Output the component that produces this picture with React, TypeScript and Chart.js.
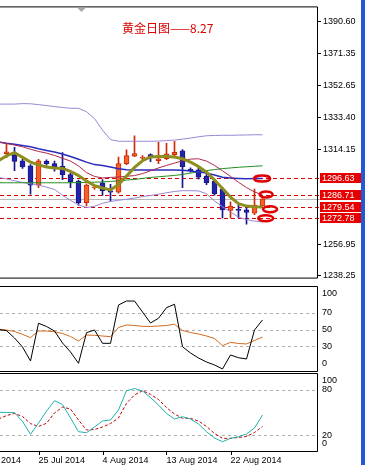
import React, { useEffect, useRef } from 'react';
import { Chart, registerables } from 'chart.js';

Chart.register(...registerables);

// ---------------- data ----------------
const dates = ['16 Jul 2014','17 Jul 2014','18 Jul 2014','20 Jul 2014','21 Jul 2014','22 Jul 2014','23 Jul 2014','24 Jul 2014','25 Jul 2014','27 Jul 2014','28 Jul 2014','29 Jul 2014','30 Jul 2014','31 Jul 2014','1 Aug 2014','3 Aug 2014','4 Aug 2014','5 Aug 2014','6 Aug 2014','7 Aug 2014','8 Aug 2014','10 Aug 2014','11 Aug 2014','12 Aug 2014','13 Aug 2014','14 Aug 2014','15 Aug 2014','17 Aug 2014','18 Aug 2014','19 Aug 2014','20 Aug 2014','21 Aug 2014','22 Aug 2014','24 Aug 2014','25 Aug 2014','26 Aug 2014','27 Aug 2014'];
const timeTickLabels = ['16 Jul 2014', '25 Jul 2014', '4 Aug 2014', '13 Aug 2014', '22 Aug 2014'];

const opens = [null, null, null, null, 1311.5, 1310.4, 1307.2, 1304.1, 1292.6, 1307.0, 1305.5, 1303.8, 1298.9, 1294.9, 1282.0, 1291.1, 1294.0, 1289.1, 1288.3, 1305.5, 1310.0, 1308.7, 1310.9, 1307.2, 1308.4, 1310.9, 1313.2, 1302.1, 1301.7, 1297.9, 1295.0, 1290.2, 1277.35, 1278.2, 1277.75, 1275.8, 1280.05];
const highs = [null, null, null, null, 1317.4, 1315.3, 1308.1, 1304.9, 1308.1, 1307.8, 1307.0, 1312.1, 1299.8, 1295.6, 1293.4, 1292.3, 1295.9, 1293.0, 1309.4, 1313.7, 1322.2, 1310.3, 1311.3, 1318.2, 1317.6, 1318.9, 1313.85, 1302.9, 1303.5, 1299.2, 1295.9, 1291.1, 1282.5, 1280.6, 1280.05, 1290.2, 1284.5];
const lows = [null, null, null, null, 1309.0, 1301.2, 1302.6, 1287.1, 1291.1, 1304.4, 1300.9, 1295.9, 1291.1, 1280.5, 1280.05, 1290.0, 1286.4, 1283.1, 1287.7, 1304.9, 1309.6, 1307.2, 1306.7, 1305.5, 1307.8, 1310.3, 1291.1, 1300.3, 1296.3, 1292.9, 1286.5, 1272.9, 1272.9, 1272.9, 1269.1, 1274.9, 1279.9];
const closes = [null, null, null, null, 1312.5, 1306.8, 1303.5, 1292.6, 1307.2, 1305.5, 1303.2, 1298.9, 1294.6, 1282.0, 1292.6, 1291.4, 1289.25, 1288.3, 1305.5, 1310.3, 1311.5, 1309.3, 1309.4, 1308.4, 1311.3, 1312.2, 1303.6, 1301.2, 1297.3, 1294.0, 1287.3, 1277.75, 1280.05, 1277.35, 1276.2, 1280.6, 1284.4];

const maFast = [null, null, null, 1307.2, 1310.1, 1312.1, 1309.25, 1306.4, 1304.7, 1303.5, 1302.9, 1302.6, 1300.9, 1298.3, 1295.0, 1292.3, 1290.9, 1289.7, 1292.9, 1298.0, 1303.2, 1307.2, 1309.5, 1309.7, 1309.7, 1309.5, 1308.4, 1306.4, 1303.8, 1300.3, 1295.7, 1290.6, 1285.4, 1281.4, 1280.0, 1279.6, 1279.5];
const maMid = [null, null, null, 1318.45, 1317.6, 1316.6, 1315.6, 1314.1, 1312.8, 1311.8, 1310.4, 1308.7, 1307.0, 1304.1, 1300.1, 1297.8, 1296.9, 1297.2, 1297.5, 1297.9, 1298.3, 1299.5, 1301.2, 1302.9, 1304.4, 1305.8, 1307.2, 1308.2, 1308.4, 1307.0, 1304.4, 1301.2, 1297.8, 1294.3, 1291.1, 1288.5, 1286.7];
const maSlow = [null, null, null, 1318.45, 1317.7, 1317.1, 1316.4, 1315.6, 1314.4, 1313.4, 1312.4, 1311.3, 1309.8, 1308.1, 1306.4, 1304.9, 1304.4, 1303.5, 1302.4, 1301.8, 1301.7, 1301.7, 1301.7, 1301.7, 1301.7, 1301.7, 1301.5, 1301.0, 1300.5, 1299.8, 1298.6, 1297.3, 1296.9, 1296.6, 1296.4, 1296.5, 1296.6];
const maLong = [null, null, null, 1294.0, 1294.0, 1294.0, 1294.0, 1294.0, 1294.0, 1294.0, 1294.0, 1294.0, 1294.0, 1294.1, 1294.2, 1294.35, 1294.5, 1294.8, 1295.2, 1295.6, 1296.0, 1296.6, 1297.2, 1297.6, 1298.0, 1298.4, 1299.0, 1299.8, 1300.6, 1301.3, 1301.9, 1302.5, 1302.9, 1303.3, 1303.6, 1303.9, 1304.2];
const bandUpper = [null, null, null, 1341.2, 1341.2, 1341.2, 1341.5, 1341.4, 1340.9, 1340.3, 1339.7, 1339.2, 1338.7, 1338.7, 1336.6, 1332.5, 1325.6, 1319.9, 1318.9, 1318.9, 1318.9, 1318.9, 1318.9, 1319.0, 1319.3, 1319.6, 1320.2, 1320.8, 1321.6, 1322.2, 1322.4, 1322.5, 1322.5, 1322.6, 1322.7, 1322.8, 1322.8];
const bandLower = [null, null, null, 1297.2, 1296.3, 1295.2, 1294.2, 1293.4, 1292.6, 1291.4, 1290.0, 1286.5, 1283.4, 1280.8, 1279.1, 1279.9, 1281.7, 1282.8, 1283.5, 1284.1, 1284.8, 1285.7, 1286.4, 1287.1, 1288.0, 1288.8, 1289.25, 1289.25, 1289.1, 1287.4, 1283.1, 1279.65, 1276.5, 1273.3, 1271.9, 1271.0, 1270.5];

const rsiLine = [null, null, null, 50.2, 48.8, 40, 29.2, 12.4, 57.7, 53.8, 48.4, 34, 23.2, 9.6, 46.4, 49.6, 33.6, 33.6, 79.6, 84.4, 84.4, 71.2, 58, 63.7, 76.4, 80.5, 29.5, 22, 16, 11.2, 7.6, 2.8, 19.6, 16.3, 14.8, 49.6, 61.6];
const rsiSignal = [null, null, null, 50.6, 49.6, 47.8, 44.4, 40.4, 48.4, 48.4, 47.4, 45.4, 41.8, 36.4, 43.6, 43.2, 42.4, 41.6, 52.6, 55.6, 55, 54, 53.8, 54.4, 55, 56.5, 49, 46.6, 44.8, 42.4, 39.4, 30.8, 34.8, 33.4, 32.8, 37, 41.2];
const stochK = [null, null, null, 50.5, 50.3, 50, 38.3, 21.3, 36.2, 52, 65.8, 60.8, 42.9, 24.8, 23.4, 31, 38.9, 40.3, 53.5, 79, 82, 78.7, 70, 60, 49, 41.6, 44.6, 41.6, 35, 24.8, 16.4, 11.5, 16, 18.1, 21.7, 29.7, 46.9];
const stochD = [null, null, null, 41.6, 46.2, 48.9, 44.9, 35.5, 31.7, 35.9, 49.5, 57.5, 54.8, 40.3, 27, 27.7, 31, 35.6, 42.9, 62.4, 73.4, 79, 74.3, 67.4, 56.8, 48.2, 42.5, 42.5, 38.9, 31.7, 22.4, 16, 16, 17.1, 18.4, 23.7, 31.7];

const priceTicks = [1390.60, 1371.35, 1352.65, 1333.40, 1314.15, 1256.95, 1238.25];
const levelPrices = [1296.63, 1286.71, 1279.54, 1272.78];
const bidPrice = 1284.0;
const markPos = [35.95, 36.45, 36.95, 36.4];
const markPrice = [1296.5, 1286.95, 1278.1, 1272.75];
const rsiTicks = [100, 70, 50, 30, 0];
const rsiLevels = [70, 50, 30];
const stochTicks = [100, 80, 20, 0];
const stochLevels = [80, 20];
const titleText = '黄金日图——8.27';

// ---------------- view / styling ----------------
const VIEW_MIN = 3.1875;
const VIEW_MAX = 42.8125;
const PRICE_MIN = 1237.10;
const PRICE_MAX = 1399.22;
const AXIS_W = 48;
const FONT = '"Liberation Sans", Arial, sans-serif';

const BULL_FILL = '#f4622a';
const BULL_LINE = '#cc2a0a';
const BEAR_FILL = '#2424a8';
const BEAR_LINE = '#16168a';

const series = (arr: (number | null)[]) => arr.map((v, k) => ({ x: k, y: v }));

const lineDs = (arr: (number | null)[], color: string, width: number, order: number, dash?: number[]) => ({
  type: 'line' as const,
  data: series(arr),
  borderColor: color,
  borderWidth: width,
  borderDash: dash || [],
  pointRadius: 0,
  fill: false,
  tension: 0,
  order,
});

const xHidden = {
  type: 'linear' as const,
  min: VIEW_MIN,
  max: VIEW_MAX,
  display: false,
  offset: false,
};

const drawFrame = (chart: any) => {
  const { ctx, chartArea: ca } = chart;
  ctx.save();
  ctx.strokeStyle = '#000';
  ctx.lineWidth = 1;
  ctx.setLineDash([]);
  ctx.beginPath();
  ctx.moveTo(0, ca.top - 0.5);
  ctx.lineTo(ca.right + 0.5, ca.top - 0.5);
  ctx.lineTo(ca.right + 0.5, ca.bottom + 0.5);
  ctx.lineTo(0, ca.bottom + 0.5);
  ctx.stroke();
  ctx.restore();
};

const levelLinesPlugin = (levels: number[]) => ({
  id: 'levels',
  beforeDatasetsDraw(chart: any) {
    const { ctx, chartArea: ca, scales } = chart;
    ctx.save();
    ctx.strokeStyle = '#b0b0b0';
    ctx.lineWidth = 1;
    ctx.setLineDash([3, 3]);
    levels.forEach((v) => {
      const py = Math.round(scales.y.getPixelForValue(v)) + 0.5;
      ctx.beginPath();
      ctx.moveTo(ca.left, py);
      ctx.lineTo(ca.right, py);
      ctx.stroke();
    });
    ctx.restore();
  },
  afterDraw(chart: any) {
    drawFrame(chart);
  },
});

const sideLabelsPlugin = (ticks: number[]) => ({
  id: 'sideLabels',
  afterDraw(chart: any) {
    const { ctx, chartArea: ca, scales } = chart;
    ctx.save();
    ctx.fillStyle = '#000';
    ctx.font = `9px ${FONT}`;
    ctx.textBaseline = 'middle';
    ctx.textAlign = 'left';
    ticks.forEach((v) => {
      let py = scales.y.getPixelForValue(v);
      py = Math.min(Math.max(py, ca.top + 7), ca.bottom - 7);
      ctx.fillText(String(v), ca.right + 5, py);
    });
    ctx.restore();
  },
});

const timeAxisPlugin = {
  id: 'timeAxis',
  afterDraw(chart: any) {
    const { ctx, chartArea: ca, scales } = chart;
    ctx.save();
    ctx.fillStyle = '#000';
    ctx.strokeStyle = '#000';
    ctx.lineWidth = 1;
    ctx.font = `9px ${FONT}`;
    ctx.textBaseline = 'top';
    ctx.textAlign = 'left';
    timeTickLabels.forEach((d) => {
      const px = scales.x.getPixelForValue(dates.indexOf(d));
      const tx = Math.round(px) + 0.5;
      ctx.beginPath();
      ctx.moveTo(tx, ca.bottom);
      ctx.lineTo(tx, ca.bottom + 4);
      ctx.stroke();
      ctx.fillText(d, px, ca.bottom + 5);
    });
    ctx.restore();
  },
};

const mainDeco = {
  id: 'mainDeco',
  beforeDatasetsDraw(chart: any) {
    const { ctx, chartArea: ca, scales } = chart;
    ctx.save();
    ctx.lineWidth = 1;
    const by = Math.round(scales.y.getPixelForValue(bidPrice)) + 0.5;
    ctx.strokeStyle = '#b8b8b8';
    ctx.beginPath();
    ctx.moveTo(ca.left, by);
    ctx.lineTo(chart.width, by);
    ctx.stroke();
    ctx.strokeStyle = '#d80000';
    ctx.setLineDash([4, 3]);
    levelPrices.forEach((p) => {
      const py = Math.round(scales.y.getPixelForValue(p)) + 0.5;
      ctx.beginPath();
      ctx.moveTo(ca.left, py);
      ctx.lineTo(ca.right + 3, py);
      ctx.stroke();
    });
    ctx.restore();
  },
  afterDatasetsDraw(chart: any) {
    const { ctx, scales } = chart;
    const rx = [8, 6.5, 7, 7.5];
    ctx.save();
    ctx.strokeStyle = '#e00000';
    ctx.lineWidth = 2.5;
    markPos.forEach((m, k) => {
      const px = scales.x.getPixelForValue(m);
      const py = scales.y.getPixelForValue(markPrice[k]);
      ctx.beginPath();
      ctx.ellipse(px, py, rx[k], 3, 0, 0, Math.PI * 2);
      ctx.stroke();
    });
    ctx.restore();
  },
  afterDraw(chart: any) {
    const { ctx, chartArea: ca, scales } = chart;
    drawFrame(chart);
    ctx.save();
    ctx.font = `9px ${FONT}`;
    ctx.textBaseline = 'middle';
    ctx.textAlign = 'left';
    levelPrices.forEach((p) => {
      const py = scales.y.getPixelForValue(p);
      ctx.fillStyle = '#e60000';
      ctx.fillRect(ca.right + 3, Math.round(py) - 5, 41, 10);
      ctx.fillStyle = '#ffffff';
      ctx.fillText(p.toFixed(2), ca.right + 5, py + 0.5);
    });
    ctx.fillStyle = '#dd0000';
    ctx.font = '12px "Noto Sans CJK SC", sans-serif';
    ctx.fillText(titleText, ca.left + 122, 28);
    ctx.fillStyle = '#a8a8a8';
    ctx.beginPath();
    ctx.moveTo(ca.left + 77, ca.top);
    ctx.lineTo(ca.left + 86, ca.top);
    ctx.lineTo(ca.left + 81.5, ca.top + 4.5);
    ctx.closePath();
    ctx.fill();
    ctx.restore();
  },
};

const baseOptions = (padding: any) => ({
  animation: false,
  responsive: false,
  maintainAspectRatio: false,
  events: [],
  layout: { padding, autoPadding: false },
  plugins: { legend: { display: false }, tooltip: { enabled: false } },
});

const plainY = (min: number, max: number) => ({
  type: 'linear',
  position: 'right',
  min,
  max,
  afterFit: (s: any) => { s.width = AXIS_W; },
  ticks: { display: false },
  grid: { display: false },
  border: { display: false },
});

function mainConfig(): any {
  const idx = dates.map((_, k) => k).filter((k) => opens[k] != null);
  const bull = (k: number) => (closes[k] as number) >= (opens[k] as number);
  return {
    type: 'bar',
    data: {
      datasets: [
        {
          type: 'bar',
          data: idx.map((k) => ({ x: k, y: [lows[k], highs[k]] })),
          backgroundColor: idx.map((k) => (bull(k) ? BULL_LINE : BEAR_LINE)),
          borderWidth: 0,
          barThickness: 1,
          grouped: false,
          order: 20,
        },
        {
          type: 'bar',
          data: idx.map((k) => ({ x: k, y: [opens[k], closes[k]] })),
          backgroundColor: idx.map((k) => (bull(k) ? BULL_FILL : BEAR_FILL)),
          borderColor: idx.map((k) => (bull(k) ? BULL_LINE : BEAR_LINE)),
          borderWidth: 1,
          borderSkipped: false,
          barThickness: 5,
          grouped: false,
          order: 19,
        },
        lineDs(bandUpper, '#9a85d6', 1, 8),
        lineDs(bandLower, '#9a85d6', 1, 7),
        lineDs(maLong, '#1f8f1f', 1, 6),
        lineDs(maSlow, '#2b2bbf', 1.5, 5),
        lineDs(maMid, '#b0284a', 1, 4),
        lineDs(maFast, '#8e8e1e', 3, 3),
      ],
    },
    options: {
      ...baseOptions({ top: 2, bottom: 1, left: 0, right: 0 }),
      scales: {
        x: xHidden,
        y: {
          type: 'linear',
          position: 'right',
          min: PRICE_MIN,
          max: PRICE_MAX,
          afterFit: (s: any) => { s.width = AXIS_W; },
          afterBuildTicks: (s: any) => { s.ticks = priceTicks.map((v) => ({ value: v })); },
          ticks: {
            callback: (v: any) => Number(v).toFixed(2),
            font: { family: FONT, size: 9 },
            color: '#000',
            padding: 2,
            autoSkip: false,
          },
          grid: { drawOnChartArea: false, drawTicks: true, tickLength: 4, color: '#000' },
          border: { display: false },
        },
      },
    },
    plugins: [mainDeco],
  };
}

function rsiConfig(): any {
  return {
    type: 'line',
    data: {
      datasets: [
        lineDs(rsiSignal, '#d2691e', 1, 2),
        lineDs(rsiLine, '#000000', 1, 1),
      ],
    },
    options: {
      ...baseOptions({ top: 2, bottom: 1, left: 0, right: 0 }),
      scales: { x: xHidden, y: plainY(0.36, 101.22) },
    },
    plugins: [levelLinesPlugin(rsiLevels), sideLabelsPlugin(rsiTicks)],
  };
}

function stochConfig(): any {
  return {
    type: 'line',
    data: {
      datasets: [
        lineDs(stochD, '#c00000', 1, 2, [3, 2]),
        lineDs(stochK, '#20b2aa', 1, 1),
      ],
    },
    options: {
      ...baseOptions({ top: 2, bottom: 14, left: 0, right: 0 }),
      scales: { x: xHidden, y: plainY(-0.8, 101.2) },
    },
    plugins: [levelLinesPlugin(stochLevels), sideLabelsPlugin(stochTicks), timeAxisPlugin],
  };
}

export default function App() {
  const mainRef = useRef<HTMLCanvasElement>(null);
  const rsiRef = useRef<HTMLCanvasElement>(null);
  const stoRef = useRef<HTMLCanvasElement>(null);

  useEffect(() => {
    const charts = [
      new Chart(mainRef.current as HTMLCanvasElement, mainConfig()),
      new Chart(rsiRef.current as HTMLCanvasElement, rsiConfig()),
      new Chart(stoRef.current as HTMLCanvasElement, stochConfig()),
    ];
    return () => charts.forEach((c) => c.destroy());
  }, []);

  return (
    <div style={{ position: 'fixed', left: 0, top: 0, width: 365, height: 465, background: '#ffffff', overflow: 'hidden' }}>
      <canvas ref={mainRef} width={365} height={285} style={{ position: 'absolute', left: 0, top: 0 }} />
      <canvas ref={rsiRef} width={365} height={87} style={{ position: 'absolute', left: 0, top: 285 }} />
      <canvas ref={stoRef} width={365} height={93} style={{ position: 'absolute', left: 0, top: 372 }} />
      <div style={{ position: 'absolute', left: 361, top: 0, width: 4, height: 465, background: '#2358d8' }} />
    </div>
  );
}
